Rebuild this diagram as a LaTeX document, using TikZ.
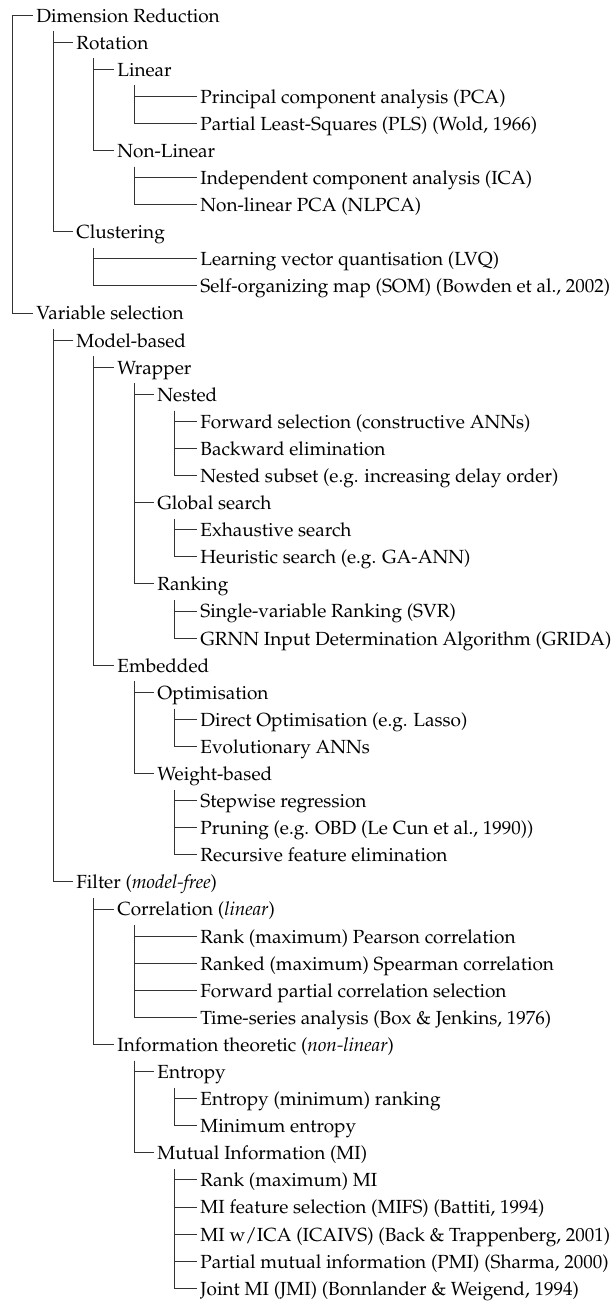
\documentclass[tikz,border=0pt]{standalone}
\usepackage[T1]{fontenc}
\usepackage{mathpazo}
\usetikzlibrary{calc}

\begin{document}
\begin{tikzpicture}[y=-13.545pt, x=0.5pt, font=\fontsize{9.5}{11.5}\selectfont,
    item/.style={anchor=west, inner xsep=1.5pt, inner ysep=0pt, text height=0.7em, text depth=0pt},
    branch/.style={draw=black!80, line width=0.45pt}]
    \useasboundingbox (0,-0.554) rectangle (616,47.62);

    % dimension reduction
    \coordinate (root) at (12,0);
    \node[item] (dimred)     at (33,0)  {Dimension Reduction};
    \node[item] (rotation)   at (73,1)  {Rotation};
    \node[item] (linear)     at (114,2) {Linear};
    \node[item] (pca)        at (197,3) {Principal component analysis (PCA)};
    \node[item] (pls)        at (197,4) {Partial Least-Squares (PLS) (Wold, 1966)};
    \node[item] (nonlinear)  at (114,5) {Non-Linear};
    \node[item] (ica)        at (197,6) {Independent component analysis (ICA)};
    \node[item] (nlpca)      at (197,7) {Non-linear PCA (NLPCA)};
    \node[item] (clustering) at (73,8)  {Clustering};
    \node[item] (lvq)        at (197,9) {Learning vector quantisation (LVQ)};
    \node[item] (som)        at (197,10) {Self-organizing map (SOM) (Bowden et al., 2002)};

    % variable selection
    \node[item] (varsel)      at (33,11)  {Variable selection};
    \node[item] (modelbased)  at (73,12)  {Model-based};
    \node[item] (wrapper)     at (114,13) {Wrapper};
    \node[item] (nested)      at (154,14) {Nested};
    \node[item] (fwdsel)      at (197,15) {Forward selection (constructive ANNs)};
    \node[item] (bwdelim)     at (197,16) {Backward elimination};
    \node[item] (nestsub)     at (197,17) {Nested subset (e.g. increasing delay order)};
    \node[item] (globsearch)  at (154,18) {Global search};
    \node[item] (exhaust)     at (197,19) {Exhaustive search};
    \node[item] (heuristic)   at (197,20) {Heuristic search (e.g. GA-ANN)};
    \node[item] (ranking)     at (154,21) {Ranking};
    \node[item] (svr)         at (197,22) {Single-variable Ranking (SVR)};
    \node[item] (grida)       at (197,23) {GRNN Input Determination Algorithm (GRIDA)};
    \node[item] (embedded)    at (114,24) {Embedded};
    \node[item] (optim)       at (154,25) {Optimisation};
    \node[item] (directopt)   at (197,26) {Direct Optimisation (e.g. Lasso)};
    \node[item] (evoann)      at (197,27) {Evolutionary ANNs};
    \node[item] (weightbased) at (154,28) {Weight-based};
    \node[item] (stepwise)    at (197,29) {Stepwise regression};
    \node[item] (pruning)     at (197,30) {Pruning (e.g. OBD (Le Cun et al., 1990))};
    \node[item] (rfe)         at (197,31) {Recursive feature elimination};
    \node[item] (filter)      at (73,32)  {Filter (\textit{model-free})};
    \node[item] (correl)      at (114,33) {Correlation (\textit{linear})};
    \node[item] (pearson)     at (197,34) {Rank (maximum) Pearson correlation};
    \node[item] (spearman)    at (197,35) {Ranked (maximum) Spearman correlation};
    \node[item] (partcorr)    at (197,36) {Forward partial correlation selection};
    \node[item] (timeser)     at (197,37) {Time-series analysis (Box \& Jenkins, 1976)};
    \node[item] (infotheo)    at (114,38) {Information theoretic (\textit{non-linear})};
    \node[item] (entropy)     at (154,39) {Entropy};
    \node[item] (entrank)     at (197,40) {Entropy (minimum) ranking};
    \node[item] (minent)      at (197,41) {Minimum entropy};
    \node[item] (mutinfo)     at (154,42) {Mutual Information (MI)};
    \node[item] (rankmi)      at (197,43) {Rank (maximum) MI};
    \node[item] (mifs)        at (197,44) {MI feature selection (MIFS) (Battiti, 1994)};
    \node[item] (icaivs)      at (197,45) {MI w/ICA (ICAIVS) (Back \& Trappenberg, 2001)};
    \node[item] (pmi)         at (197,46) {Partial mutual information (PMI) (Sharma, 2000)};
    \node[item] (jmi)         at (197,47) {Joint MI (JMI) (Bonnlander \& Weigend, 1994)};

    % branches
    \draw[branch] (root) -- (dimred.west);
    \draw[branch] (root) |- (varsel.west);
    \foreach \p/\c in {dimred/rotation, dimred/clustering,
        rotation/linear, rotation/nonlinear, linear/pca, linear/pls,
        nonlinear/ica, nonlinear/nlpca, clustering/lvq, clustering/som,
        varsel/modelbased, varsel/filter,
        modelbased/wrapper, modelbased/embedded,
        wrapper/nested, wrapper/globsearch, wrapper/ranking,
        nested/fwdsel, nested/bwdelim, nested/nestsub,
        globsearch/exhaust, globsearch/heuristic, ranking/svr, ranking/grida,
        embedded/optim, embedded/weightbased,
        optim/directopt, optim/evoann,
        weightbased/stepwise, weightbased/pruning, weightbased/rfe,
        filter/correl, filter/infotheo,
        correl/pearson, correl/spearman, correl/partcorr, correl/timeser,
        infotheo/entropy, infotheo/mutinfo,
        entropy/entrank, entropy/minent,
        mutinfo/rankmi, mutinfo/mifs, mutinfo/icaivs, mutinfo/pmi, mutinfo/jmi} {
        \draw[branch] ($(\p.west)+(20,0.6)$) |- (\c.west);
    }
\end{tikzpicture}
\end{document}
